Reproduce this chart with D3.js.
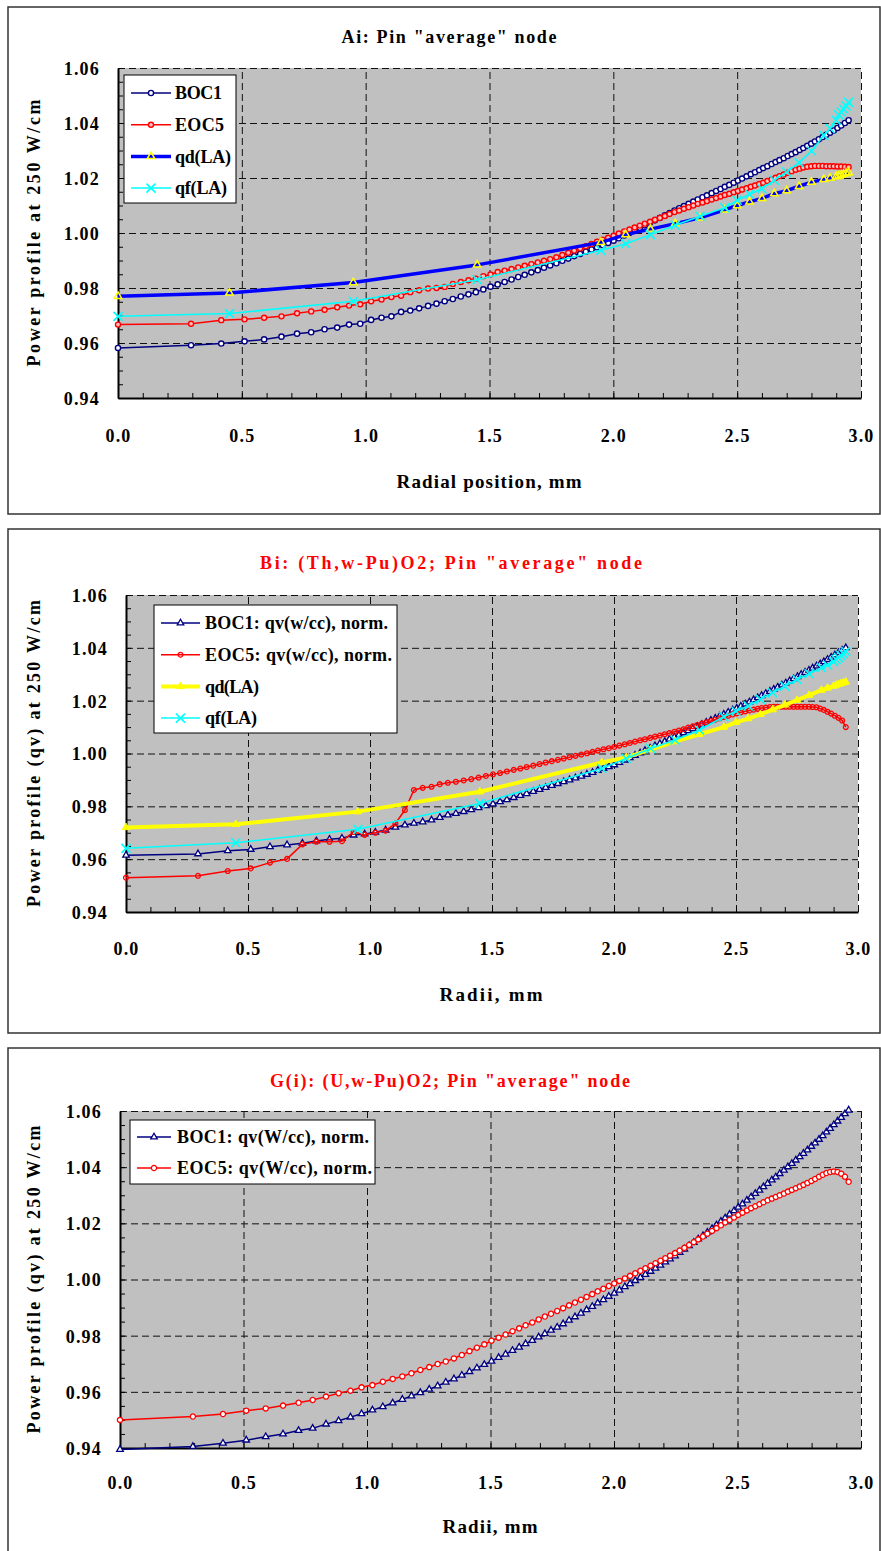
<!DOCTYPE html>
<html>
<head>
<meta charset="utf-8">
<script src="https://cdn.jsdelivr.net/npm/d3@7"></script>
<style>
body { margin: 0; background: #fff; }
</style>
</head>
<body>
<script>
var width = 881,
    height = 1551;

var serif = "'Liberation Serif', 'DejaVu Serif', 'Times New Roman', serif";

// ring radii (mm) used by the BOC1 / EOC5 curves
var radii = [0,0.295,0.417,0.511,0.590,0.660,0.723,0.780,0.834,0.885,0.933,0.978,1.022,1.064,1.104,1.143,1.180,1.216,1.252,1.286,1.319,1.352,1.384,1.415,1.445,1.475,1.504,1.533,
  1.561,1.589,1.616,1.642,1.669,1.695,1.720,1.745,1.770,1.794,1.818,1.842,1.866,1.889,1.912,1.934,1.957,1.979,2.001,
  2.022,2.044,2.065,2.086,2.107,2.127,2.148,2.168,2.188,2.208,2.227,2.247,
  2.266,2.285,2.304,2.323,2.341,2.360,2.378,2.397,2.415,2.433,2.450,2.468,2.486,2.503,
  2.520,2.538,2.555,2.572,2.589,2.605,2.622,2.639,2.655,2.671,2.688,2.704,2.720,2.736,2.752,
  2.767,2.783,2.799,2.814,2.830,2.845,2.860,2.875,2.890,2.905,2.920,2.935,2.950];

// radii used by the qd(LA) / qf(LA) curves
var laRadii = [0,0.45,0.95,1.45,1.95,2.05,2.15,2.25,2.35,2.45,2.5,2.55,2.6,2.65,2.7,2.75,2.8,2.85,2.875,2.9,2.91,2.92,2.93,2.94,2.95];

var xTicks = [0, 0.5, 1.0, 1.5, 2.0, 2.5, 3.0];
var yTicks = [0.94, 0.96, 0.98, 1.00, 1.02, 1.04, 1.06];

// Ai: Pin "average" node
var p1Boc = [0.9582,0.9592,0.9598,0.9606,0.9613,0.9623,0.9634,0.9639,0.9650,0.9656,0.9667,0.9670,0.9684,0.9692,0.9697,0.9713,0.9718,0.9726,0.9735,0.9743,0.9752,0.9760,0.9769,0.9777,0.9785,0.9795,0.9805,0.9813,
  0.9822,0.9831,0.9840,0.9848,0.9857,0.9865,0.9874,0.9882,0.9890,0.9899,0.9907,0.9916,0.9924,0.9932,0.9940,0.9948,0.9956,0.9964,0.9972,
  0.9981,0.9991,1.0000,1.0010,1.0019,1.0028,1.0037,1.0046,1.0055,1.0064,1.0073,1.0082,
  1.0090,1.0098,1.0106,1.0114,1.0122,1.0130,1.0137,1.0145,1.0153,1.0160,1.0168,1.0175,1.0183,1.0191,
  1.0198,1.0206,1.0214,1.0221,1.0229,1.0236,1.0243,1.0251,1.0258,1.0265,1.0272,1.0280,1.0287,1.0294,1.0302,
  1.0309,1.0317,1.0325,1.0333,1.0341,1.0349,1.0357,1.0365,1.0373,1.0382,1.0391,1.0400,1.0410];
var p1Eoc = [0.9667,0.9670,0.9683,0.9686,0.9692,0.9697,0.9708,0.9715,0.9721,0.9730,0.9736,0.9741,0.9752,0.9758,0.9767,0.9772,0.9785,0.9792,0.9798,0.9800,0.9804,0.9815,0.9822,0.9828,0.9834,0.9843,0.9849,0.9858,
  0.9863,0.9869,0.9875,0.9881,0.9887,0.9893,0.9899,0.9905,0.9912,0.9920,0.9928,0.9936,0.9944,0.9952,0.9960,0.9968,0.9976,0.9983,0.9990,
  0.9998,1.0006,1.0013,1.0020,1.0027,1.0034,1.0041,1.0048,1.0055,1.0062,1.0069,1.0076,
  1.0082,1.0088,1.0094,1.0100,1.0106,1.0111,1.0116,1.0122,1.0127,1.0133,1.0138,1.0143,1.0148,1.0153,
  1.0158,1.0163,1.0168,1.0173,1.0178,1.0183,1.0189,1.0195,1.0201,1.0207,1.0213,1.0219,1.0225,1.0230,1.0234,
  1.0238,1.0241,1.0243,1.0244,1.0244,1.0244,1.0243,1.0243,1.0243,1.0242,1.0242,1.0241,1.0240];
var p1Qd = [0.9770,0.9782,0.9820,0.9884,0.9966,0.9994,1.0014,1.0034,1.0055,1.0084,1.0100,1.0113,1.0126,1.0143,1.0154,1.0170,1.0185,1.0195,1.0200,1.0205,1.0208,1.0211,1.0214,1.0217,1.0220];
var p1Qf = [0.9697,0.9707,0.9752,0.9830,0.9937,0.9961,0.9994,1.0028,1.0061,1.0092,1.0119,1.0141,1.0161,1.0192,1.0222,1.0256,1.0298,1.0355,1.0380,1.0410,1.0430,1.0440,1.0450,1.0462,1.0475];

// Bi: (Th,w-Pu)O2
var p2Boc = [0.9615,0.9620,0.9632,0.9637,0.9647,0.9654,0.9660,0.9669,0.9675,0.9679,0.9691,0.9695,0.9702,0.9710,0.9721,0.9729,0.9736,0.9741,0.9748,0.9758,0.9767,0.9773,0.9780,0.9787,0.9795,0.9802,0.9809,0.9817,
  0.9825,0.9833,0.9841,0.9848,0.9856,0.9864,0.9871,0.9879,0.9886,0.9893,0.9900,0.9907,0.9914,0.9921,0.9928,0.9936,0.9943,0.9950,0.9957,
  0.9966,0.9975,0.9984,0.9993,1.0002,1.0011,1.0020,1.0029,1.0037,1.0045,1.0054,1.0062,
  1.0070,1.0078,1.0086,1.0094,1.0102,1.0110,1.0118,1.0126,1.0133,1.0141,1.0148,1.0156,1.0164,1.0171,
  1.0179,1.0187,1.0195,1.0203,1.0211,1.0219,1.0227,1.0235,1.0243,1.0251,1.0259,1.0267,1.0275,1.0283,1.0291,
  1.0299,1.0307,1.0315,1.0323,1.0331,1.0339,1.0347,1.0356,1.0364,1.0373,1.0382,1.0391,1.0400];
var p2Eoc = [0.9530,0.9537,0.9555,0.9565,0.9587,0.9601,0.9656,0.9666,0.9666,0.9668,0.9703,0.9692,0.9700,0.9708,0.9735,0.9786,0.9862,0.9870,0.9874,0.9884,0.9889,0.9893,0.9898,0.9903,0.9909,0.9915,0.9921,0.9926,
  0.9932,0.9938,0.9943,0.9949,0.9954,0.9960,0.9966,0.9971,0.9976,0.9981,0.9986,0.9991,0.9996,1.0001,1.0006,1.0011,1.0016,1.0020,1.0025,
  1.0030,1.0035,1.0040,1.0045,1.0050,1.0054,1.0059,1.0064,1.0068,1.0073,1.0077,1.0082,
  1.0087,1.0092,1.0098,1.0103,1.0108,1.0113,1.0118,1.0123,1.0128,1.0133,1.0138,1.0143,1.0148,1.0152,
  1.0156,1.0160,1.0163,1.0166,1.0169,1.0172,1.0174,1.0176,1.0177,1.0177,1.0177,1.0177,1.0177,1.0177,1.0177,
  1.0177,1.0177,1.0177,1.0176,1.0175,1.0170,1.0165,1.0158,1.0151,1.0143,1.0135,1.0125,1.0100];
var p2Qd = [0.9720,0.9732,0.9780,0.9855,0.9966,0.9985,1.0015,1.0045,1.0073,1.0100,1.0118,1.0132,1.0148,1.0166,1.0184,1.0202,1.0221,1.0240,1.0248,1.0255,1.0259,1.0262,1.0265,1.0268,1.0271];
var p2Qf = [0.9641,0.9662,0.9713,0.9811,0.9943,0.9981,1.0019,1.0051,1.0089,1.0139,1.0160,1.0180,1.0205,1.0230,1.0255,1.0280,1.0302,1.0325,1.0335,1.0348,1.0356,1.0363,1.0371,1.0378,1.0386];

// G(i): (U,w-Pu)O2
var p3Boc = [0.9395,0.9405,0.9417,0.9428,0.9440,0.9450,0.9462,0.9470,0.9485,0.9497,0.9510,0.9522,0.9535,0.9547,0.9560,0.9573,0.9585,0.9597,0.9609,0.9621,0.9634,0.9646,0.9659,0.9672,0.9685,0.9697,0.9709,0.9722,
  0.9734,0.9747,0.9759,0.9771,0.9783,0.9795,0.9807,0.9819,0.9830,0.9842,0.9855,0.9867,0.9880,0.9892,0.9904,0.9916,0.9928,0.9940,0.9951,
  0.9962,0.9974,0.9985,0.9996,1.0007,1.0018,1.0029,1.0040,1.0051,1.0062,1.0073,1.0084,
  1.0096,1.0108,1.0120,1.0132,1.0144,1.0156,1.0168,1.0181,1.0194,1.0207,1.0219,1.0232,1.0245,1.0257,
  1.0269,1.0282,1.0294,1.0306,1.0318,1.0330,1.0342,1.0354,1.0365,1.0377,1.0389,1.0401,1.0413,1.0425,1.0437,
  1.0449,1.0461,1.0474,1.0486,1.0499,1.0512,1.0525,1.0538,1.0551,1.0564,1.0577,1.0590,1.0603];
var p3Eoc = [0.9500,0.9512,0.9521,0.9533,0.9541,0.9551,0.9561,0.9571,0.9583,0.9595,0.9604,0.9616,0.9624,0.9636,0.9646,0.9655,0.9666,0.9678,0.9688,0.9699,0.9708,0.9719,0.9731,0.9745,0.9757,0.9769,0.9782,0.9793,
  0.9804,0.9816,0.9826,0.9837,0.9847,0.9858,0.9868,0.9878,0.9888,0.9898,0.9908,0.9918,0.9928,0.9938,0.9948,0.9958,0.9967,0.9977,0.9986,
  0.9995,1.0004,1.0013,1.0022,1.0031,1.0040,1.0049,1.0058,1.0067,1.0076,1.0085,1.0094,
  1.0103,1.0113,1.0123,1.0133,1.0143,1.0153,1.0163,1.0173,1.0183,1.0193,1.0203,1.0212,1.0221,1.0230,
  1.0238,1.0246,1.0254,1.0261,1.0268,1.0275,1.0282,1.0288,1.0294,1.0300,1.0306,1.0313,1.0319,1.0325,1.0331,
  1.0337,1.0344,1.0351,1.0358,1.0366,1.0373,1.0379,1.0383,1.0385,1.0383,1.0377,1.0366,1.0348];

var navy = "#000080", red = "#ff0000", blue = "#0000ff", yellow = "#ffff00", cyan = "#00ffff";

var panels = [
  {
    frame: [8, 7, 872, 507],
    plot: {l: 118, r: 861, t: 68, b: 398},
    title: {text: 'Ai: Pin "average" node', x: 449, y: 43, len: 215, color: "#000"},
    yTitle: {text: "Power profile at 250 W/cm", len: 267},
    xTitle: {text: "Radial position, mm", x: 489, y: 488, len: 185},
    xLabelY: 44,
    legend: {x: 124, y: 75, w: 112, h: 128, x1: 131, x2: 171, tx: 175, row0: 18, step: 31.7},
    series: [
      {name: "BOC1", len: 47, xs: radii, ys: p1Boc, color: navy, lw: 1.5, mk: "circle", ms: 2.6, fill: "#fff", mw: 1.4},
      {name: "EOC5", len: 49, xs: radii, ys: p1Eoc, color: red, lw: 1.5, mk: "circle", ms: 2.5, fill: "#ffc0c0", mw: 1.4},
      {name: "qd(LA)", len: 56, xs: laRadii, ys: p1Qd, color: blue, lw: 3.5, mk: "tri", ms: 7.5, fill: "none", mstroke: yellow, mw: 1.5},
      {name: "qf(LA)", len: 52, xs: laRadii, ys: p1Qf, color: cyan, lw: 1.5, mk: "x", ms: 4.5, fill: "none", mw: 1.6}
    ]
  },
  {
    frame: [8, 529, 872, 504],
    plot: {l: 126, r: 858, t: 595, b: 912},
    title: {text: 'Bi: (Th,w-Pu)O2; Pin "average" node', x: 451, y: 569, len: 382, color: red},
    yTitle: {text: "Power profile (qv) at 250 W/cm", len: 307},
    xTitle: {text: "Radii, mm", x: 491, y: 1001, len: 103},
    xLabelY: 43,
    legend: {x: 154, y: 605, w: 243, h: 128, x1: 161, x2: 200, tx: 205, row0: 18, step: 31.7},
    series: [
      {name: "BOC1: qv(w/cc), norm.", len: 183, xs: radii, ys: p2Boc, color: navy, lw: 1.5, mk: "tri", ms: 6.5, fill: "#fff", mw: 1.3},
      {name: "EOC5: qv(w/cc), norm.", len: 187, xs: radii, ys: p2Eoc, color: red, lw: 1.5, mk: "circle", ms: 2.4, fill: "none", mw: 1.3},
      {name: "qd(LA)", len: 54, xs: laRadii, ys: p2Qd, color: yellow, lw: 4, mk: "tri", ms: 7.5, fill: yellow, mw: 1},
      {name: "qf(LA)", len: 52, xs: laRadii, ys: p2Qf, color: cyan, lw: 1.5, mk: "x", ms: 4.5, fill: "none", mw: 1.6}
    ]
  },
  {
    frame: [8, 1048, 872, 520],
    plot: {l: 120, r: 861, t: 1111, b: 1448},
    title: {text: 'G(i): (U,w-Pu)O2; Pin "average" node', x: 450, y: 1087, len: 360, color: red},
    yTitle: {text: "Power profile (qv) at 250 W/cm", len: 308},
    xTitle: {text: "Radii, mm", x: 490, y: 1533, len: 95},
    xLabelY: 41,
    legend: {x: 130, y: 1120, w: 245, h: 64, x1: 137, x2: 171, tx: 177, row0: 17, step: 31},
    series: [
      {name: "BOC1: qv(W/cc), norm.", len: 192, xs: radii, ys: p3Boc, color: navy, lw: 1.5, mk: "tri", ms: 6.5, fill: "#fff", mw: 1.3},
      {name: "EOC5: qv(W/cc), norm.", len: 195, xs: radii, ys: p3Eoc, color: red, lw: 1.5, mk: "circle", ms: 2.6, fill: "#fff", mw: 1.3}
    ]
  }
];

var svg = d3.select("body").append("svg")
    .attr("width", width)
    .attr("height", height)
    .style("font-family", serif);

panels.forEach(drawPanel);

function font(sel, size) {
  return sel.attr("font-family", null)
      .style("font-family", serif)
      .style("font-weight", "bold")
      .style("font-size", size + "px");
}

function markerPath(type, s) {
  if (type == "x") return "M" + (-s) + "," + (-s) + "L" + s + "," + s + "M" + (-s) + "," + s + "L" + s + "," + (-s);
  if (type == "tri") return d3.symbol(d3.symbolTriangle, 0.433 * s * s)();
  return d3.symbol(d3.symbolCircle, Math.PI * s * s)();
}

function drawMarkers(g, pts, d) {
  g.selectAll("path.mk")
    .data(pts).enter().append("path")
      .attr("class", "mk")
      .attr("transform", function(p) { return "translate(" + p[0] + "," + p[1] + ")"; })
      .attr("d", markerPath(d.mk, d.ms))
      .attr("fill", d.fill)
      .attr("stroke", d.mstroke || d.color)
      .attr("stroke-width", d.mw);
}

function drawPanel(cfg) {
  var p = cfg.plot;
  var g = svg.append("g");

  g.append("rect")
      .attr("x", cfg.frame[0]).attr("y", cfg.frame[1])
      .attr("width", cfg.frame[2]).attr("height", cfg.frame[3])
      .attr("fill", "#fff").attr("stroke", "#333").attr("stroke-width", 1.5);

  var x = d3.scaleLinear().domain([0, 3]).range([p.l, p.r]);
  var y = d3.scaleLinear().domain([0.94, 1.06]).range([p.b, p.t]);

  g.append("rect")
      .attr("x", p.l).attr("y", p.t)
      .attr("width", p.r - p.l).attr("height", p.b - p.t)
      .attr("fill", "#c0c0c0");

  // dashed grid
  var gx = g.append("g").attr("transform", "translate(0," + p.b + ")")
      .call(d3.axisBottom(x).tickValues(xTicks.slice(1)).tickSize(-(p.b - p.t)).tickFormat(""));
  var gy = g.append("g").attr("transform", "translate(" + p.l + ",0)")
      .call(d3.axisLeft(y).tickValues(yTicks.slice(1)).tickSize(-(p.r - p.l)).tickFormat(""));
  [gx, gy].forEach(function(a) {
    a.select(".domain").remove();
    a.selectAll("line").attr("stroke", "#111").attr("stroke-width", 1).attr("stroke-dasharray", "7,4");
  });

  // minor ticks + axis lines
  var mx = g.append("g").attr("transform", "translate(0," + p.b + ")")
      .call(d3.axisBottom(x).tickValues(d3.range(0, 3.001, 0.1)).tickSize(-5).tickSizeOuter(0).tickFormat(""));
  var my = g.append("g").attr("transform", "translate(" + p.l + ",0)")
      .call(d3.axisLeft(y).tickValues(d3.range(0.94, 1.0601, 0.005)).tickSize(-5).tickSizeOuter(0).tickFormat(""));
  [mx, my].forEach(function(a) {
    a.select(".domain").attr("stroke", "#000").attr("stroke-width", 2);
    a.selectAll("line").attr("stroke", "#000").attr("stroke-width", 1);
  });

  // tick labels
  var lx = g.append("g").attr("transform", "translate(0," + p.b + ")")
      .call(d3.axisBottom(x).tickValues(xTicks).tickSize(0).tickFormat(d3.format(".1f")));
  lx.selectAll("text").attr("y", cfg.xLabelY).attr("dy", 0);
  var ly = g.append("g").attr("transform", "translate(" + p.l + ",0)")
      .call(d3.axisLeft(y).tickValues(yTicks).tickSize(0).tickPadding(18).tickFormat(d3.format(".2f")));
  ly.selectAll("text").attr("dy", "0.36em");
  [lx, ly].forEach(function(a) {
    a.attr("font-family", null).attr("font-size", null);
    a.select(".domain").remove();
    font(a.selectAll("text"), 18).style("letter-spacing", "1.2px").attr("fill", "#000");
  });

  // series
  var line = d3.line().x(function(d) { return d[0]; }).y(function(d) { return d[1]; });
  cfg.series.forEach(function(s) {
    var pts = s.xs.map(function(r, i) { return [x(r), y(s.ys[i])]; });
    var sg = g.append("g");
    sg.append("path").attr("d", line(pts))
        .attr("fill", "none").attr("stroke", s.color)
        .attr("stroke-width", s.lw).attr("stroke-linejoin", "round");
    drawMarkers(sg, pts, s);
  });

  // titles
  font(g.append("text"), 18).attr("x", cfg.title.x).attr("y", cfg.title.y)
      .attr("text-anchor", "middle")
      .attr("textLength", cfg.title.len).attr("lengthAdjust", "spacing")
      .attr("fill", cfg.title.color)
      .text(cfg.title.text);
  font(g.append("text"), 19).attr("x", cfg.xTitle.x).attr("y", cfg.xTitle.y)
      .attr("text-anchor", "middle")
      .attr("textLength", cfg.xTitle.len).attr("lengthAdjust", "spacing")
      .attr("fill", "#000")
      .text(cfg.xTitle.text);
  font(g.append("text"), 18)
      .attr("transform", "translate(40," + (p.t + p.b) / 2 + ") rotate(-90)")
      .attr("text-anchor", "middle")
      .attr("textLength", cfg.yTitle.len).attr("lengthAdjust", "spacing")
      .attr("fill", "#000")
      .text(cfg.yTitle.text);

  // legend
  var L = cfg.legend;
  var lg = g.append("g");
  lg.append("rect").attr("x", L.x).attr("y", L.y).attr("width", L.w).attr("height", L.h)
      .attr("fill", "#fff").attr("stroke", "#000").attr("stroke-width", 1);
  cfg.series.forEach(function(s, i) {
    var ry = L.y + L.row0 + i * L.step;
    var eg = lg.append("g");
    eg.append("line").attr("x1", L.x1).attr("x2", L.x2).attr("y1", ry).attr("y2", ry)
        .attr("stroke", s.color).attr("stroke-width", s.lw);
    drawMarkers(eg, [[(L.x1 + L.x2) / 2, ry]], s);
    font(eg.append("text"), 18).attr("x", L.tx).attr("y", ry).attr("dy", "0.35em")
        .attr("textLength", s.len).attr("lengthAdjust", "spacing")
        .attr("fill", "#000")
        .text(s.name);
  });
}
</script>
</body>
</html>
